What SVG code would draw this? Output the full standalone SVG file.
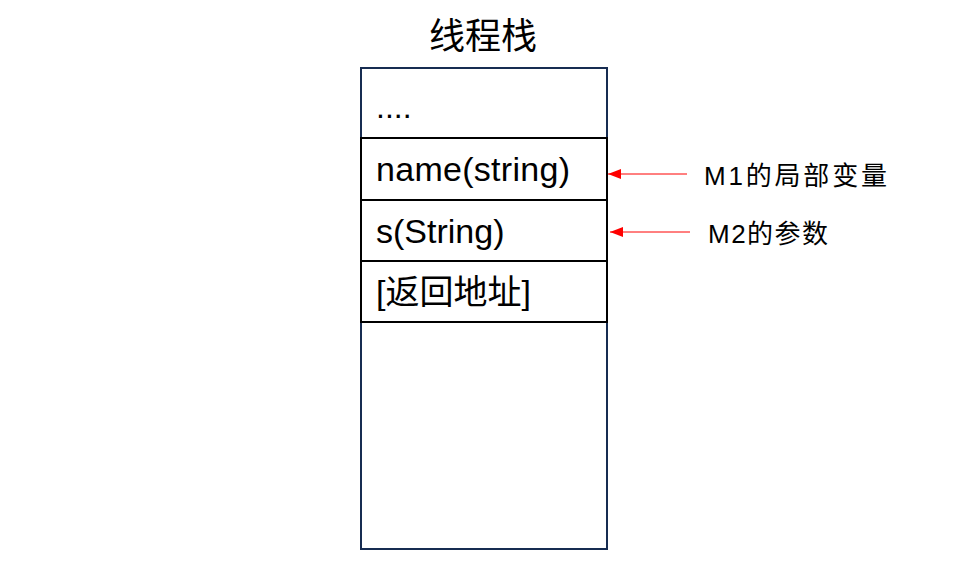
<svg xmlns="http://www.w3.org/2000/svg" width="967" height="576" viewBox="0 0 967 576">
<style>
.t{font-family:"Liberation Sans","Noto Sans CJK SC",sans-serif;fill:#000}
.cell{fill:none;stroke:#000;stroke-width:2}
.conn{stroke:#ff0000;stroke-width:1}
</style>
<defs>
<marker id="ah" markerWidth="14" markerHeight="10" refX="13" refY="5" orient="auto" markerUnits="userSpaceOnUse">
<path d="M0,0 L13,5 L0,10 z" fill="#ff0000"/>
</marker>
</defs>
<rect width="967" height="576" fill="#fff"/>
<g id="title"><text class="t" x="483" y="49" font-size="36" text-anchor="middle">线程栈</text></g>
<g id="stack">
<rect x="361" y="68" width="246" height="481" fill="#fff" stroke="#172c51" stroke-width="2"/>
</g>
<g id="cell-dots"><text class="t" x="376" y="118" font-size="32">....</text></g>
<g id="cell-name">
<rect class="cell" x="361" y="138" width="246" height="62"/>
<text class="t" x="376" y="181" font-size="34" textLength="194" lengthAdjust="spacing">name(string)</text>
</g>
<g id="cell-s">
<rect class="cell" x="361" y="200" width="246" height="61"/>
<text class="t" x="376" y="243" font-size="34">s(String)</text>
</g>
<g id="cell-ret">
<rect class="cell" x="361" y="261" width="246" height="61"/>
<text class="t" x="376" y="304" font-size="34">[返回地址]</text>
</g>
<g id="connectors">
<line class="conn" x1="687" y1="174" x2="608" y2="174" marker-end="url(#ah)"/>
<line class="conn" x1="690" y1="232" x2="610" y2="232" marker-end="url(#ah)"/>
</g>
<g id="label-m1"><text class="t" x="704" y="185" font-size="26" textLength="183" lengthAdjust="spacing">M1的局部变量</text></g>
<g id="label-m2"><text class="t" x="708" y="243" font-size="26" letter-spacing="1.5">M2的参数</text></g>
</svg>
